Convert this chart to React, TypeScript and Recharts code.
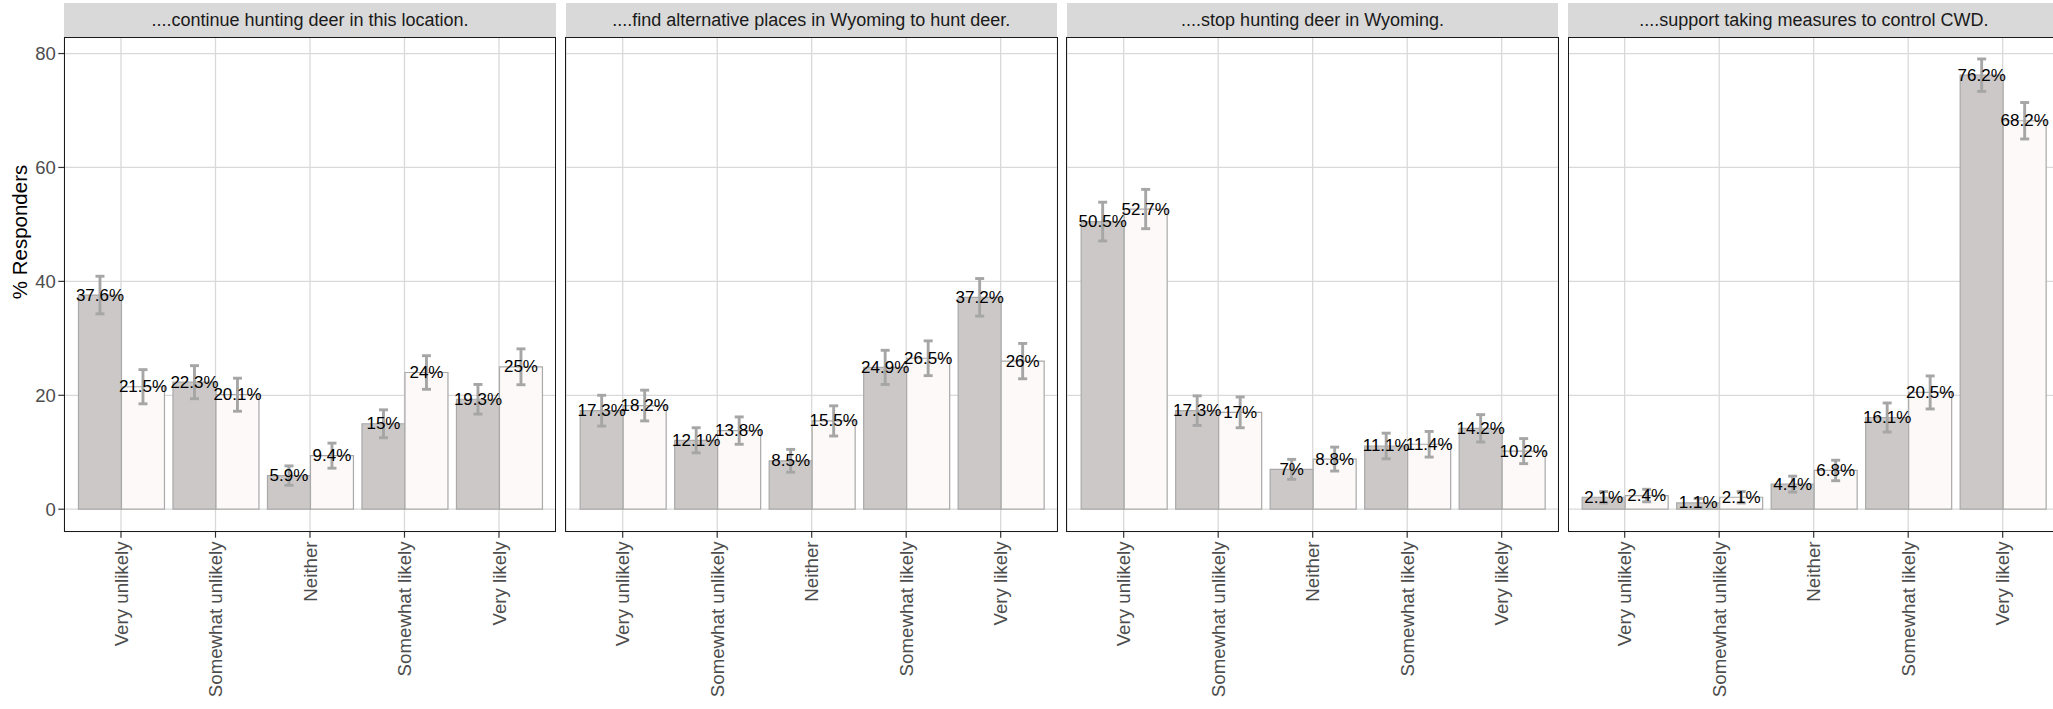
import React from 'react';
import { BarChart, Bar, XAxis, YAxis, CartesianGrid, ErrorBar, LabelList } from 'recharts';

// ---------- data ----------
const categories = ['Very unlikely', 'Somewhat unlikely', 'Neither', 'Somewhat likely', 'Very likely'];
const facetTitles = [
  '....continue hunting deer in this location.',
  '....find alternative places in Wyoming to hunt deer.',
  '....stop hunting deer in Wyoming.',
  '....support taking measures to control CWD.',
];

const continueA = [37.6, 22.3, 5.9, 15, 19.3];
const continueB = [21.5, 20.1, 9.4, 24, 25];
const continueAErr = [3.3, 2.9, 1.7, 2.45, 2.6];
const continueBErr = [3.0, 2.9, 2.2, 2.95, 3.15];

const alternativeA = [17.3, 12.1, 8.5, 24.9, 37.2];
const alternativeB = [18.2, 13.8, 15.5, 26.5, 26];
const alternativeAErr = [2.7, 2.2, 2.0, 3.0, 3.3];
const alternativeBErr = [2.7, 2.4, 2.65, 3.05, 3.1];

const stopA = [50.5, 17.3, 7, 11.1, 14.2];
const stopB = [52.7, 17, 8.8, 11.4, 10.2];
const stopAErr = [3.4, 2.6, 1.75, 2.25, 2.4];
const stopBErr = [3.45, 2.7, 2.1, 2.25, 2.2];

const supportA = [2.1, 1.1, 4.4, 16.1, 76.2];
const supportB = [2.4, 2.1, 6.8, 20.5, 68.2];
const supportAErr = [1.0, 0.8, 1.4, 2.55, 2.85];
const supportBErr = [1.1, 1.0, 1.8, 2.9, 3.2];

const yTicks = [0, 20, 40, 60, 80];
const yDomain: [number, number] = [-3.95, 82.85];
const yTitle = '% Responders';

// ---------- style ----------
const FONT = '"Liberation Sans", Arial, Helvetica, sans-serif';
const PANEL_TOP = 37.3;
const PANEL_BOTTOM = 531.7;
const PANEL_W = 491.4;
const PANEL_H = PANEL_BOTTOM - PANEL_TOP;
const panelLefts = [64.3, 565.6, 1066.9, 1568.2];
const CHART_H = 709;
const XAXIS_H = 170;
const FILL_A = '#CBC8C7';
const FILL_B = '#FDF9F8';
const BAR_STROKE = '#A9A9A9';
const ERR_COLOR = '#A6A6A6';

const panels = [
  { a: continueA, b: continueB, aErr: continueAErr, bErr: continueBErr },
  { a: alternativeA, b: alternativeB, aErr: alternativeAErr, bErr: alternativeBErr },
  { a: stopA, b: stopB, aErr: stopAErr, bErr: stopBErr },
  { a: supportA, b: supportB, aErr: supportAErr, bErr: supportBErr },
];

const ValueLabel = (props: any) => {
  const { x, y, width, value } = props;
  return (
    <text
      x={Number(x) + Number(width) / 2}
      y={Number(y)}
      textAnchor="middle"
      dominantBaseline="central"
      fontSize={17}
      fill="#000"
      fontFamily={FONT}
    >
      {`${value}%`}
    </text>
  );
};

const CatTick = (props: any) => {
  const { x, y, payload } = props;
  return (
    <text
      x={x}
      y={y}
      transform={`rotate(-90 ${x} ${y})`}
      textAnchor="end"
      dy="0.35em"
      fontSize={18.7}
      fill="#4D4D4D"
      fontFamily={FONT}
    >
      {payload.value}
    </text>
  );
};

function Panel({ index }: { index: number }) {
  const p = panels[index];
  const data = categories.map((c, i) => ({
    cat: c,
    a: p.a[i],
    b: p.b[i],
    aErr: p.aErr[i],
    bErr: p.bErr[i],
  }));
  const showY = index === 0;
  const yAxisW = showY ? panelLefts[0] : 0;
  const chartLeft = showY ? 0 : panelLefts[index];
  const chartW = PANEL_W + yAxisW;
  return (
    <div style={{ position: 'absolute', left: chartLeft, top: 0, width: chartW, height: CHART_H }}>
      <BarChart
        width={chartW}
        height={CHART_H}
        data={data}
        margin={{ top: PANEL_TOP, right: 0, bottom: CHART_H - PANEL_BOTTOM - XAXIS_H, left: 0 }}
        barCategoryGap="5%"
        barGap={0}
      >
        <CartesianGrid stroke="#D9D9D9" strokeWidth={1.3} />
        <XAxis
          dataKey="cat"
          type="category"
          height={XAXIS_H}
          padding={{ left: PANEL_W * 0.1 / 5.2, right: PANEL_W * 0.1 / 5.2 }}
          axisLine={false}
          tickSize={6}
          tickMargin={3.7}
          tickLine={{ stroke: '#333333', strokeWidth: 1.2 }}
          tick={<CatTick />}
          interval={0}
        />
        <YAxis
          type="number"
          domain={yDomain}
          ticks={yTicks}
          allowDataOverflow
          hide={!showY}
          width={yAxisW}
          axisLine={false}
          tickSize={6}
          tickMargin={2.5}
          tickLine={{ stroke: '#333333', strokeWidth: 1.2 }}
          tick={{ fill: '#4D4D4D', fontSize: 18.5, fontFamily: FONT }}
        />
        <Bar dataKey="a" fill={FILL_A} stroke={BAR_STROKE} strokeWidth={1.2} isAnimationActive={false}>
          <ErrorBar dataKey="aErr" width={4.5} strokeWidth={2.9} stroke={ERR_COLOR} direction="y" />
          <LabelList dataKey="a" content={ValueLabel} />
        </Bar>
        <Bar dataKey="b" fill={FILL_B} stroke={BAR_STROKE} strokeWidth={1.2} isAnimationActive={false}>
          <ErrorBar dataKey="bErr" width={4.5} strokeWidth={2.9} stroke={ERR_COLOR} direction="y" />
          <LabelList dataKey="b" content={ValueLabel} />
        </Bar>
      </BarChart>
    </div>
  );
}

export default function App() {
  return (
    <div
      style={{
        position: 'absolute',
        left: 0,
        top: 0,
        width: 2053,
        height: 709,
        overflow: 'hidden',
        background: '#fff',
        fontFamily: FONT,
      }}
    >
      {facetTitles.map((t, i) => (
        <div
          key={'strip' + i}
          style={{
            position: 'absolute',
            left: panelLefts[i],
            top: 3,
            width: PANEL_W,
            height: PANEL_TOP - 3,
            background: '#D9D9D9',
            color: '#1A1A1A',
            fontSize: 18,
            lineHeight: `${PANEL_TOP - 3}px`,
            textAlign: 'center',
            whiteSpace: 'nowrap',
          }}
        >
          {t}
        </div>
      ))}
      {panels.map((_, i) => (
        <Panel key={'panel' + i} index={i} />
      ))}
      {panelLefts.map((l, i) => (
        <div
          key={'border' + i}
          style={{
            position: 'absolute',
            left: l - 0.7,
            top: PANEL_TOP - 0.7,
            width: PANEL_W + 1.4,
            height: PANEL_H + 1.4,
            border: '1.4px solid #1A1A1A',
            boxSizing: 'border-box',
            pointerEvents: 'none',
          }}
        />
      ))}
      <svg style={{ position: 'absolute', left: 0, top: 0 }} width={40} height={709}>
        <text
          x={19}
          y={232}
          transform="rotate(-90 19 232)"
          textAnchor="middle"
          dominantBaseline="central"
          fontSize={20.5}
          fill="#000"
          fontFamily={FONT}
        >
          {yTitle}
        </text>
      </svg>
    </div>
  );
}
